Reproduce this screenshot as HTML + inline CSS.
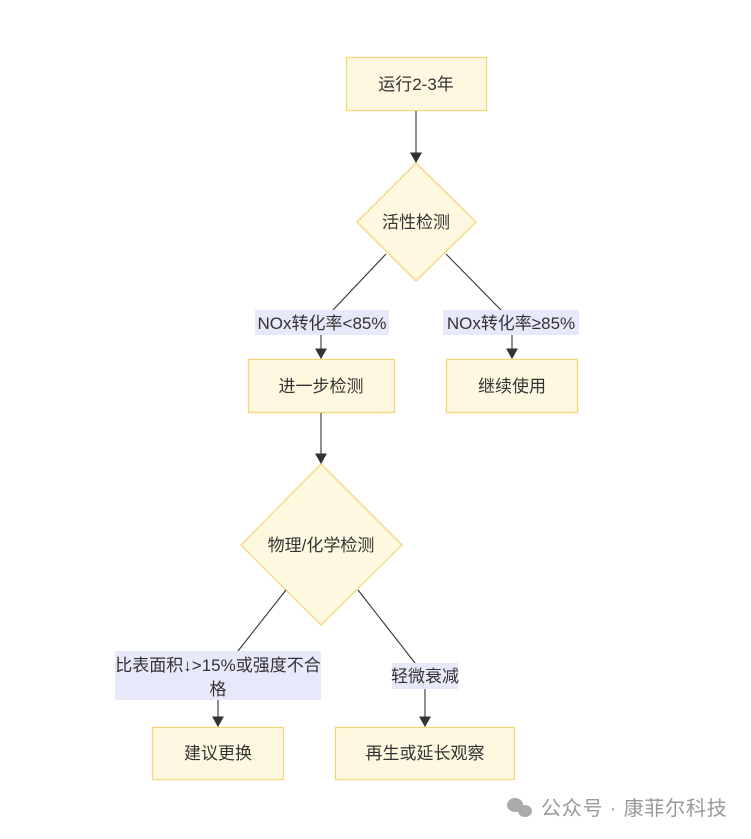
<!DOCTYPE html>
<html><head><meta charset="utf-8"><style>
html,body{margin:0;padding:0;background:#fff;}
svg{display:block;font-family:"Liberation Sans","Noto Sans CJK SC",sans-serif;}
</style></head><body>
<svg width="751" height="839" viewBox="0 0 751 839" xmlns="http://www.w3.org/2000/svg">
<g fill="#fff8e1" stroke="#f5d77a" stroke-width="1.3">
<rect x="346.5" y="57.5" width="140" height="53"/>
<polygon points="416,163 476,222 416,281 357,222"/>
<rect x="248.5" y="359.5" width="146" height="53"/>
<rect x="446.5" y="359.5" width="131" height="53"/>
<polygon points="321,464 402,545 321,625 241,545"/>
<rect x="152.5" y="727.5" width="131" height="52"/>
<rect x="335.5" y="727.5" width="179" height="52"/>
</g>
<g stroke="#333" stroke-width="1.1" fill="none">
<line x1="416" y1="111" x2="416" y2="153"/>
<path d="M411,153 l10,0 l-5,9 z" fill="#333"/>
<line x1="386" y1="254" x2="333" y2="310"/>
<line x1="446" y1="254" x2="501" y2="310"/>
<line x1="321" y1="335" x2="321" y2="349"/>
<path d="M316,349 l10,0 l-5,9 z" fill="#333"/>
<line x1="512" y1="335" x2="512" y2="349"/>
<path d="M507,349 l10,0 l-5,9 z" fill="#333"/>
<line x1="321" y1="413" x2="321" y2="454"/>
<path d="M316,454 l10,0 l-5,9 z" fill="#333"/>
<line x1="286" y1="590" x2="238" y2="651"/>
<line x1="358" y1="590" x2="415" y2="663"/>
<line x1="218" y1="700" x2="218" y2="717"/>
<path d="M213,717 l10,0 l-5,9 z" fill="#333"/>
<line x1="425" y1="689" x2="425" y2="717"/>
<path d="M420,717 l10,0 l-5,9 z" fill="#333"/>
</g>
<g fill="#e8e8fb">
<rect x="255" y="310" width="134" height="25"/>
<rect x="443" y="310" width="136" height="25"/>
<rect x="115" y="651" width="206" height="49"/>
<rect x="392" y="663" width="66" height="26"/>
</g>
<g fill="#333" font-size="17" text-anchor="middle">
<text x="416" y="90">运行2-3年</text>
<text x="416" y="228">活性检测</text>
<text x="322" y="329">NOx转化率&lt;85%</text>
<text x="511" y="329">NOx转化率≥85%</text>
<text x="321" y="392">进一步检测</text>
<text x="512" y="392">继续使用</text>
<text x="321" y="551">物理/化学检测</text>
<text x="218" y="671">比表面积↓&gt;15%或强度不合</text>
<text x="218" y="695">格</text>
<text x="425" y="682">轻微衰减</text>
<text x="218" y="759">建议更换</text>
<text x="425" y="759">再生或延长观察</text>
</g>
<g fill="#aaa">
<ellipse cx="515" cy="805" rx="8" ry="7"/>
<ellipse cx="525" cy="811" rx="7" ry="6"/>
</g>
<text x="541" y="815" font-size="20" letter-spacing="0.8" fill="#999">公众号 · 康菲尔科技</text>
</svg>
</body></html>
